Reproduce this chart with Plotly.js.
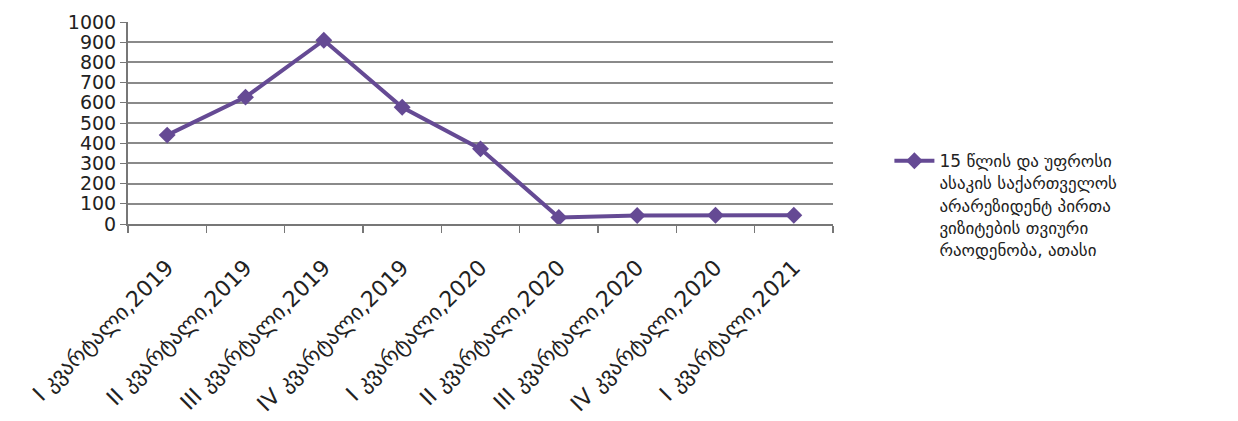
<!DOCTYPE html>
<html>
<head>
<meta charset="utf-8">
<script src="https://cdn.plot.ly/plotly-3.0.1.min.js"></script>
<style>html,body{margin:0;padding:0;background:#fff;}#chart{width:1238px;height:421px;}</style>
</head>
<body>
<div id="chart"></div>
<script>
const categories = ["I კვარტალი,2019","II კვარტალი,2019","III კვარტალი,2019","IV კვარტალი,2019","I კვარტალი,2020","II კვარტალი,2020","III კვარტალი,2020","IV კვარტალი,2020","I კვარტალი,2021"];
const visits = [440, 628, 910, 578, 372, 32, 42, 43, 43];
const seriesName = "15 წლის და უფროსი<br>ასაკის საქართველოს<br>არარეზიდენტ პირთა<br>ვიზიტების თვიური<br>რაოდენობა, ათასი";
const yTicks = [0,100,200,300,400,500,600,700,800,900,1000];

const font = "DejaVu Sans, sans-serif";
Plotly.newPlot("chart", [{
  x: categories, y: visits, type: "scatter", mode: "lines+markers",
  name: seriesName,
  line: {color: "#654a94", width: 4},
  marker: {symbol: "diamond", size: 13, color: "#654a94"}
}], {
  width: 1238, height: 421,
  margin: {l: 128, r: 405, t: 22, b: 197},
  paper_bgcolor: "#fff", plot_bgcolor: "#fff",
  font: {family: font, color: "#222", size: 17},
  showlegend: true,
  legend: {x: 1.08, y: 0.40, xanchor: "left", yanchor: "top", valign: "top",
           font: {family: font, size: 17, color: "#222"}, tracegroupgap: 0, itemwidth: 40},
  xaxis: {
    type: "category", tickangle: -45, tickson: "boundaries",
    ticks: "outside", ticklen: 7, tickcolor: "#777", tickwidth: 1.5,
    showline: true, linecolor: "#777", linewidth: 2, ticklabelstandoff: 20,
    showgrid: false, tickfont: {family: font, size: 22, color: "#222"},
    range: [-0.5, 8.5]
  },
  yaxis: {
    range: [0, 1000], tickvals: yTicks, ticktext: yTicks.map(String),
    ticks: "outside", ticklen: 6, tickcolor: "#777",
    showline: true, linecolor: "#777", linewidth: 2,
    showgrid: true, gridcolor: "#8a8a8a", gridwidth: 2,
    zeroline: false,
    tickfont: {family: font, size: 19, color: "#222"}
  }
}, {displayModeBar: false, staticPlot: true});
</script>
</body>
</html>
